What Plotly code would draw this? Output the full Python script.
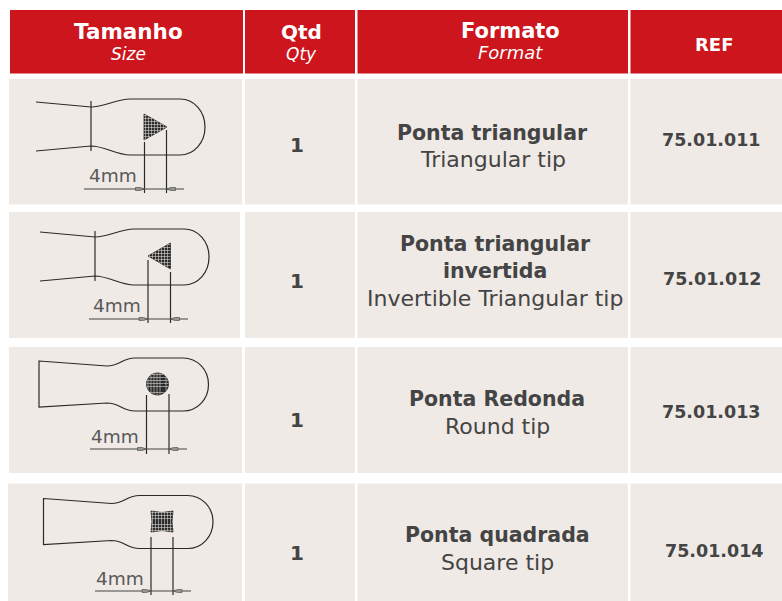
import math
import plotly.graph_objects as go

# ---- table content ----
headers_pt = ["Tamanho", "Qtd", "Formato", "REF"]
headers_en = ["Size", "Qty", "Format", ""]
quantities = ["1", "1", "1", "1"]
names_pt = [["Ponta triangular"], ["Ponta triangular", "invertida"], ["Ponta Redonda"], ["Ponta quadrada"]]
names_en = ["Triangular tip", "Invertible Triangular tip", "Round tip", "Square tip"]
references = ["75.01.011", "75.01.012", "75.01.013", "75.01.014"]
tips = ["triangle", "inverted", "circle", "square"]
dimension_label = "4mm"

# ---- style ----
RED = "#cc151c"
CELL = "#efeae6"
TEXT = "#444444"
LINE = "#2a2a2a"
FONT = "DejaVu Sans"

shapes, annotations = [], []


def rect(x0, y0, x1, y1, color):
    shapes.append(dict(type="rect", x0=x0, y0=y0, x1=x1, y1=y1, fillcolor=color,
                       line=dict(width=0), layer="below"))


def path(d, color=LINE, width=1.2, fill=None):
    s = dict(type="path", path=d, line=dict(color=color, width=width))
    if fill:
        s["fillcolor"] = fill
    shapes.append(s)


def text(x, y, s, size, color=TEXT, weight=400, style="normal"):
    annotations.append(dict(x=x, y=y, text=s, showarrow=False, xanchor="center", yanchor="middle",
                            font=dict(family=FONT, size=size, color=color, weight=weight, style=style)))


def outline(left, ytl, ybl, neck, yn, ybn, top, bottom, ss, se, right, closed):
    r = right - se
    mid = (top + bottom) / 2
    h = (bottom - top) / 2
    k = 0.56
    d = f"M{left},{ytl} L{neck},{yn} C{neck+13},{yn} {ss-13},{top} {ss},{top} L{se},{top} "
    d += f"C{se+k*r},{top} {right},{mid-k*h} {right},{mid} C{right},{mid+k*h} {se+k*r},{bottom} {se},{bottom} "
    d += f"L{ss},{bottom} C{ss-13},{bottom} {neck+13},{ybn} {neck},{ybn} L{left},{ybl}"
    if closed:
        d += " Z"
    path(d)


def hatched(poly):
    d = "M" + " L".join(f"{x:.1f},{y:.1f}" for x, y in poly) + " Z"
    path(d, color="#2b2b2b", width=0.8, fill="#2b2b2b")
    xs = [p[0] for p in poly]
    ys = [p[1] for p in poly]
    n = len(poly)
    step = 3.0
    x = min(xs) + 1.5
    while x < max(xs):
        hits = []
        for i in range(n):
            (a, b), (c, e) = poly[i], poly[(i + 1) % n]
            if (a - x) * (c - x) < 0:
                hits.append(b + (e - b) * (x - a) / (c - a))
        if len(hits) >= 2:
            path(f"M{x:.1f},{min(hits):.1f} L{x:.1f},{max(hits):.1f}", color="#d8d4d0", width=0.6)
        x += step
    y = min(ys) + 1.5
    while y < max(ys):
        hits = []
        for i in range(n):
            (a, b), (c, e) = poly[i], poly[(i + 1) % n]
            if (b - y) * (e - y) < 0:
                hits.append(a + (c - a) * (y - b) / (e - b))
        if len(hits) >= 2:
            path(f"M{min(hits):.1f},{y:.1f} L{max(hits):.1f},{y:.1f}", color="#d8d4d0", width=0.6)
        y += step


def dimension(x0, x1, y_start0, y_start1, y_end, y_dim, d0, d1, label_x, label_y):
    path(f"M{x0},{y_start0} L{x0},{y_end}")
    path(f"M{x1},{y_start1} L{x1},{y_end}")
    path(f"M{d0},{y_dim} L{d1},{y_dim}", color="#444444")
    path(f"M{x0-9},{y_dim-1.5} L{x0-4.5},{y_dim-1.5} L{x0},{y_dim} L{x0-4.5},{y_dim+1.5} L{x0-9},{y_dim+1.5} Z",
         color="#555555", width=0.8)
    path(f"M{x1+9},{y_dim-1.5} L{x1+4.5},{y_dim-1.5} L{x1},{y_dim} L{x1+4.5},{y_dim+1.5} L{x1+9},{y_dim+1.5} Z",
         color="#555555", width=0.8)
    text(label_x, label_y, dimension_label, 18.5, color="#5a5a5a")


# ---- cell grid ----
col_edges = [(10, 243), (245, 355), (357.5, 628), (630.5, 782)]
for a, b in col_edges:
    rect(a, 10, b, 73.5, RED)

row_edges = [(79, 204.5), (212, 338), (347, 473), (483.5, 601)]
first_cells = [(9, 242), (9, 240), (9, 242), (8, 242)]
for (top, bot), first in zip(row_edges, first_cells):
    rect(first[0], top, first[1], bot, CELL)
    for a, b in col_edges[1:]:
        rect(a, top, b, bot, CELL)

# ---- header text ----
header_x = [128, 301, 510, 714]
header_y = [31.5, 32, 31, 44]
header_size = [21.5, 20, 21, 18]
sub_y = [54, 54, 52, 0]
for i, (hp, he) in enumerate(zip(headers_pt, headers_en)):
    text(header_x[i], header_y[i], hp, header_size[i], color="white", weight=700)
    if he:
        text(header_x[i], sub_y[i], he, 18 if he == "Format" else 17, color="white", style="italic")

# ---- body text ----
qty_y = [144.5, 280.5, 419.5, 552.5]
name_x = [492.5, 495, 497, 497]
name_y = [[133], [244, 271], [399], [535]]
en_y = [159, 298, 426, 562]
ref_x = [711.5, 712, 711, 714]
ref_y = [140, 279, 412, 551]
for i in range(4):
    text(296.5, qty_y[i], quantities[i], 20, weight=700)
    for s, y in zip(names_pt[i], name_y[i]):
        text(name_x[i], y, s, 20.5, weight=700)
    text(name_x[i], en_y[i], names_en[i], 22)
    text(ref_x[i], ref_y[i], references[i], 17.5, weight=700)


# ---- tip drawings ----
def neck_tool(ox, oy):
    outline(36 + ox, 102 + oy, 151 + oy, 91 + ox, 107 + oy, 146 + oy, 99 + oy, 155 + oy,
            130 + ox, 180 + ox, 205 + ox, False)
    path(f"M{91+ox},{101+oy} L{91+ox},{151+oy}")


def flat_tool(ox, oy):
    outline(39 + ox, 361 + oy, 407 + oy, 107 + ox, 366 + oy, 403 + oy, 358 + oy, 411 + oy,
            135 + ox, 183 + ox, 208.5 + ox, True)


neck_tool(0, 0)
hatched([(144, 114), (167, 127), (144, 140)])
dimension(144.5, 166.5, 142, 130, 193, 189, 84, 184, 113, 175)

neck_tool(4, 130)
hatched([(148, 256), (170.5, 243), (170.5, 269)])
dimension(148, 170.5, 260, 272, 323, 319, 89, 188, 117, 305)

flat_tool(0, 0)
hatched([(157.5 + 11 * math.cos(a * math.pi / 18), 384 + 11 * math.sin(a * math.pi / 18)) for a in range(36)])
dimension(146.5, 169, 395, 394, 454, 449, 90, 187, 115, 436)

flat_tool(4.5, 137.5)
hatched([(151, 511), (162, 512.5), (173, 511), (172, 521.5), (173, 532), (162, 530.5), (151, 532), (152, 521.5)])
dimension(151, 173, 537, 537, 595, 591, 95, 191, 120, 578)

fig = go.Figure()
fig.update_layout(
    width=782, height=601, margin=dict(l=0, r=0, t=0, b=0),
    paper_bgcolor="white", plot_bgcolor="white", showlegend=False,
    xaxis=dict(range=[0, 782], visible=False, fixedrange=True),
    yaxis=dict(range=[601, 0], visible=False, fixedrange=True),
    shapes=shapes, annotations=annotations,
)
fig.write_html("out.html", config=dict(displayModeBar=False),
               post_script="document.body.style.margin='0';document.body.style.overflow='hidden';")
